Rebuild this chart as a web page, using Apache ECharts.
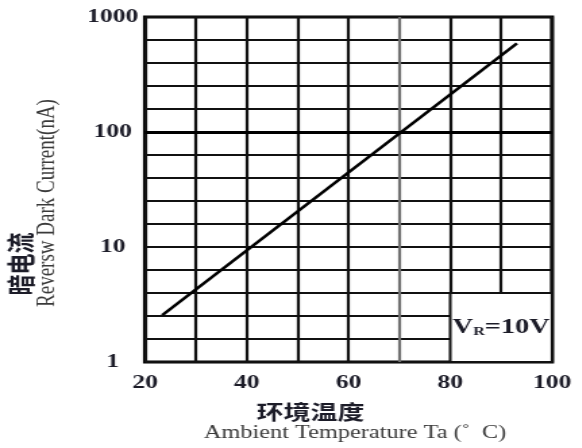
<!DOCTYPE html>
<html>
<head>
<meta charset="utf-8">
<script src="https://cdn.jsdelivr.net/npm/echarts@6/dist/echarts.min.js"></script>
<style>
  html, body { margin: 0; padding: 0; background: #fff; overflow: hidden; }
  /* the drawing is laid out narrow and widened by scaleX, giving the wide glyphs of the datasheet print */
  #chart { width: 431px; height: 448px; transform: scaleX(1.35); transform-origin: 0 0; }
</style>
</head>
<body>
<div id="chart"></div>
<script>
// Reverse dark current vs. ambient temperature, VR = 10V
const temperature = [23.4, 93.1];          // Ta (°C)
const darkCurrent = [2.56, 590];           // nA
const xTicks = [20, 40, 60, 80, 100];
const yTickLabels = ['1', '10', '100', '1000'];

const serif = '"Liberation Serif", "Times New Roman", serif';
const cjk = '"Noto Sans CJK SC", sans-serif';

const chart = echarts.init(document.getElementById('chart'), null, { renderer: 'canvas' });

// vertical rules every 10 °C; the 70 °C rule prints grey
const vColors = [];
for (let t = 20; t <= 100; t += 10) vColors.push(t === 70 ? '#707070' : '#111');

chart.setOption({
  animation: false,
  grid: {
    left: 107.4, right: 22.1, top: 17, bottom: 86,
    show: true, borderColor: '#000', borderWidth: 3, backgroundColor: '#fff'
  },
  xAxis: [{
    type: 'value', min: 20, max: 100, interval: 10,
    axisLine: { show: false }, axisTick: { show: false },
    axisLabel: {
      margin: 12, color: '#1c1c28', fontFamily: serif, fontWeight: 'bold', fontSize: 19,
      formatter: v => (xTicks.indexOf(v) >= 0 ? String(v) : '')
    },
    splitLine: { show: true, lineStyle: { color: vColors, width: 2.2 } }
  }],
  yAxis: [{
    type: 'log', logBase: 10, min: 1, max: 1000,
    axisLine: { show: false }, axisTick: { show: false },
    axisLabel: {
      align: 'center', margin: 24, color: '#1c1c28', fontFamily: serif, fontWeight: 'bold', fontSize: 19,
      formatter: v => yTickLabels[Math.round(Math.log10(v))]
    },
    splitLine: { show: false }
  }, {
    // five equal divisions per decade
    type: 'value', min: 0, max: 3, interval: 0.2, position: 'left',
    axisLine: { show: false }, axisTick: { show: false }, axisLabel: { show: false },
    splitLine: { show: true, lineStyle: { color: '#111', width: 2 } }
  }],
  series: [{
    type: 'line',
    xAxisIndex: 0, yAxisIndex: 0,
    data: temperature.map((t, i) => [t, darkCurrent[i]]),
    showSymbol: false, symbol: 'none',
    lineStyle: { color: '#000', width: 2.6 },
    z: 5,
    markLine: {
      silent: true, symbol: 'none', label: { show: false },
      lineStyle: { color: '#000', width: 3.2, type: 'solid' },
      data: [{ yAxis: 100 }]
    },
    markArea: {
      silent: true,
      itemStyle: { color: '#fff', borderColor: '#111', borderWidth: 2 },
      label: {
        show: true, position: 'inside',
        formatter: '{v|V}{s|R}{v|=10V}',
        rich: {
          v: { fontFamily: serif, fontWeight: 'bold', fontSize: 21, color: '#1c1c28' },
          s: { fontFamily: serif, fontWeight: 'bold', fontSize: 12, color: '#1c1c28', verticalAlign: 'bottom', padding: [7, 0, 0, 0] }
        }
      },
      data: [[{ xAxis: 80, yAxis: 1 }, { xAxis: 100, yAxis: Math.pow(10, 0.6) }]]
    }
  }],
  graphic: [
    { type: 'text', x: 230, y: 412, style: { text: '环境温度', fill: '#1c1c28', font: 'bold 20px ' + cjk, textAlign: 'center', textVerticalAlign: 'middle' } },
    { type: 'text', x: 263, y: 433, style: { text: 'Ambient Temperature Ta (˚  C)', fill: '#3a3a3a', font: '18px ' + serif, textAlign: 'center', textVerticalAlign: 'middle' } },
    { type: 'text', x: 15, y: 264, rotation: Math.PI / 2, style: { text: '暗电流', fill: '#1c1c28', font: 'bold 21px ' + cjk, textAlign: 'center', textVerticalAlign: 'middle' } },
    { type: 'text', x: 35, y: 203, rotation: Math.PI / 2, style: { text: 'Reversw Dark Current(nA)', fill: '#3a3a3a', font: '19px ' + serif, textAlign: 'center', textVerticalAlign: 'middle' } }
  ]
});
</script>
</body>
</html>
